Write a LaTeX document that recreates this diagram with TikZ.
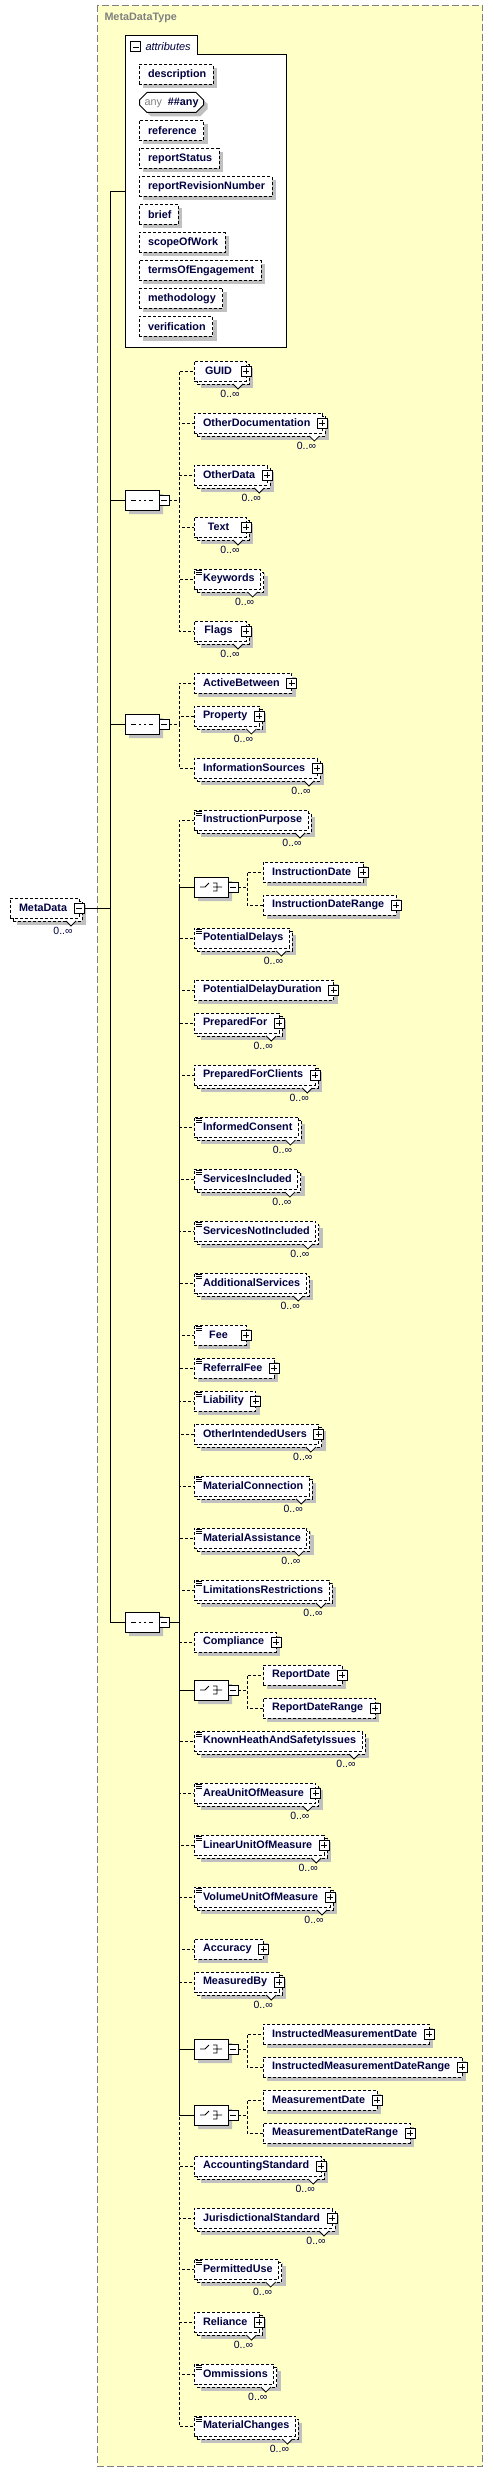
\documentclass[tikz,border=0pt]{standalone}
\usepackage{fontspec}
\setmainfont{Liberation Sans}
\usetikzlibrary{positioning, shadows, shapes.misc}
\definecolor{typebg}{RGB}{255,255,200}
\definecolor{typeline}{RGB}{128,128,128}
\definecolor{shadegray}{RGB}{192,192,192}
\definecolor{ink}{RGB}{0,0,64}
\newcommand{\elfont}{\fontsize{10.8pt}{13pt}\selectfont\bfseries}
\newcommand{\multfont}{\fontsize{10.5pt}{12pt}\selectfont}

\begin{document}
\begin{tikzpicture}[x=1pt, y=-1pt, line width=1pt,
  dashline/.style={dash pattern=on 3pt off 2pt},
  boxshadow/.style={drop shadow={shadow xshift=#1, shadow yshift=-#1, fill=shadegray, opacity=1}},
  boxshadow/.default=4pt,
  elem/.style={draw, dashline, fill=white, boxshadow, inner sep=0pt, outer sep=0pt, minimum height=20pt, minimum width=52pt, anchor=west, text=ink, font=\elfont, execute at begin node=\kern9pt, execute at end node=\kern6pt},
  attr/.style={elem, minimum width=0pt, execute at end node=\kern1pt},
  notch/.style={solid, draw=black, fill=white, line width=.8pt, to path={-- ++(5,5) -- (\tikztotarget)}},
  mult/.style={text=ink, font=\multfont, inner sep=0pt},
  rep/.style={boxshadow=7pt, copy shadow={shadow xshift=3pt, shadow yshift=-3pt, draw=black, fill=white, dashline},
    append after command={([shift={(-13,13)}]#1.east) edge[notch] ([shift={(-3,13)}]#1.east)
      node[mult] (#1-n) at ([shift={(-16,23)}]#1.east) {0..∞}}},
  rep/.default=\el,
  plus/.style={execute at end node=\kern6pt, append after command={node[plusbox] (#1-p) at (#1.east) {}}},
  plus/.default=\el,
  minus/.style={execute at end node=\kern6pt, append after command={node[minusbox] (#1-m) at (#1.east) {}}},
  simp/.style={path picture={\draw[solid, line width=.6pt] ([shift={(2,1.5)}]path picture bounding box.north west) -- ++(6,0) ++(-6,2) -- ++(6,0) ++(-6,2) -- ++(6,0);}},
  repplus/.style={rep, plus}, repsimp/.style={rep, simp}, repsimpplus/.style={rep, simp, plus}, simpplus/.style={simp, plus},
  iconbox/.style={draw, solid, fill=white, minimum size=10pt, inner sep=0pt, outer sep=0pt},
  plusbox/.style={iconbox, path picture={\draw[line width=.8pt] ([shift={(-3,0)}]path picture bounding box.center) -- ++(6,0) ([shift={(0,-3)}]path picture bounding box.center) -- ++(0,6);}},
  minusbox/.style={iconbox, path picture={\draw[line width=.8pt] ([shift={(-3,0)}]path picture bounding box.center) -- ++(6,0);}},
  compbox/.style={chamfered rectangle, chamfered rectangle xsep=6pt, draw, solid, fill=white, boxshadow, minimum width=34pt, minimum height=20pt, inner sep=0pt, outer sep=0pt},
  seqbox/.style={compbox, path picture={\draw[line width=.8pt] ([shift={(-11,0)}]path picture bounding box.center) -- ++(22,0);
    \foreach \d in {-5,0,5} \fill ([shift={(\d-1.5,-1.5)}]path picture bounding box.center) rectangle ++(3,3);}},
  choicebox/.style={compbox, path picture={\draw[line width=.8pt] ([shift={(-11,0)}]path picture bounding box.center) -- ++(5,0) -- ++(4,-4)
      ([shift={(2,-4)}]path picture bounding box.center) -- ++(4,0) -- ++(0,8) -- ++(-4,0)
      ([shift={(2,0)}]path picture bounding box.center) -- ++(9,0);
    \foreach \d in {-4,0,4} \fill ([shift={(-1.3,\d-1.3)}]path picture bounding box.center) rectangle ++(2.6,2.6);}},
  anyattr/.style={chamfered rectangle, chamfered rectangle xsep=4pt, draw, solid, fill=white, boxshadow, inner sep=0pt, minimum height=20pt, anchor=west, text=ink, font=\elfont, execute at begin node=\kern1pt, execute at end node=\kern1pt}
]
\useasboundingbox (0,0) rectangle (493,2472);
% complex type frame
\draw[draw=typeline, fill=typebg, dash pattern=on 7pt off 3pt] (97.5,5.5) rectangle (482.5,2466);
\node[anchor=west, inner sep=0pt, text=typeline, font=\elfont] (typename) at (104,18) {MetaDataType};

% attributes
\node[minimum width=161pt, minimum height=311pt, inner sep=0pt, outer sep=0pt] (attrs) at (205.5,191.5) {};
\draw[fill=white] (attrs.north west) -- ++(72,0) -- ++(0,19) -| (attrs.south east) -- (attrs.south west) -- cycle;
\node[minusbox] (attrs-m) at (135.5,47) {};
\node[anchor=west, inner sep=0pt, text=ink, font=\fontsize{11pt}{13pt}\selectfont\itshape] (attrs-t) at (145,47) {attributes};
\foreach \a/\k in {description/0, reference/2, reportStatus/3, reportRevisionNumber/4, brief/5, scopeOfWork/6, termsOfEngagement/7, methodology/8, verification/9}
  \node[attr] (\a) at (139,{74.5+28*\k}) {\a};
\node[anyattr] (anyattr) at (139,102.5) {{\mdseries\color{typeline}any}\kern6pt\#\#any};

% root element
\node[elem, rep=MetaData, minus=MetaData] (MetaData) at (10,908) {MetaData};
\coordinate (bus) at (110,908);
\draw (MetaData-m.east) -- (bus);

% compositors
\foreach \s/\y in {sqA/500, sqB/724, sqC/1622}{
  \node[seqbox] (\s) at (142,\y) {};
  \node[minusbox, right=0pt of \s] (\s-m) {};
  \draw (bus) |- (\s.west);
}
\draw (bus) |- (attrs.west);
\foreach \ch/\y in {chA/887, chB/1690, chC/2049, chD/2115}{
  \node[choicebox] (\ch) at (211,\y) {};
  \node[minusbox, right=0pt of \ch] (\ch-m) {};
  \draw (sqC-m.east) -- ++(10,0) |- (\ch.west);
}

% sequence children
\foreach \el/\y/\p/\k in {
  GUID/371/sqA-m/repplus, OtherDocumentation/423/sqA-m/repplus, OtherData/475/sqA-m/repplus,
  Text/527/sqA-m/repplus, Keywords/579/sqA-m/repsimp, Flags/631/sqA-m/repplus,
  ActiveBetween/683/sqB-m/plus, Property/716/sqB-m/repplus, InformationSources/768/sqB-m/repplus,
  InstructionPurpose/820/sqC-m/repsimp, PotentialDelays/938/sqC-m/repsimp, PotentialDelayDuration/990/sqC-m/plus,
  PreparedFor/1023/sqC-m/repplus, PreparedForClients/1075/sqC-m/repplus, InformedConsent/1127/sqC-m/repsimp,
  ServicesIncluded/1179/sqC-m/repsimp, ServicesNotIncluded/1231/sqC-m/repsimp, AdditionalServices/1283/sqC-m/repsimp,
  Fee/1335/sqC-m/simpplus, ReferralFee/1368/sqC-m/simpplus, Liability/1401/sqC-m/simpplus,
  OtherIntendedUsers/1434/sqC-m/repplus, MaterialConnection/1486/sqC-m/repsimp, MaterialAssistance/1538/sqC-m/repsimp,
  LimitationsRestrictions/1590/sqC-m/repsimp, Compliance/1642/sqC-m/plus, KnownHeathAndSafetyIssues/1741/sqC-m/repsimp,
  AreaUnitOfMeasure/1793/sqC-m/repsimpplus, LinearUnitOfMeasure/1845/sqC-m/repsimpplus, VolumeUnitOfMeasure/1897/sqC-m/repsimpplus,
  Accuracy/1949/sqC-m/plus, MeasuredBy/1982/sqC-m/repplus, AccountingStandard/2166/sqC-m/repplus,
  JurisdictionalStandard/2218/sqC-m/repplus, PermittedUse/2269/sqC-m/repsimp, Reliance/2322/sqC-m/repplus,
  Ommissions/2374/sqC-m/repsimp, MaterialChanges/2426/sqC-m/repsimp}{
  \node[elem, \k] (\el) at (194,\y) {\el};
  \draw[dashline] (\p.east) -- ++(10,0) |- (\el.west);
}

% choice children
\foreach \el/\y/\p in {
  InstructionDate/872/chA-m, InstructionDateRange/905/chA-m, ReportDate/1675/chB-m, ReportDateRange/1708/chB-m,
  InstructedMeasurementDate/2034/chC-m, InstructedMeasurementDateRange/2067/chC-m,
  MeasurementDate/2100/chD-m, MeasurementDateRange/2133/chD-m}{
  \node[elem, plus] (\el) at (263,\y) {\el};
  \draw[dashline] (\p.east) -- ++(9,0) |- (\el.west);
}
\end{tikzpicture}
\end{document}
